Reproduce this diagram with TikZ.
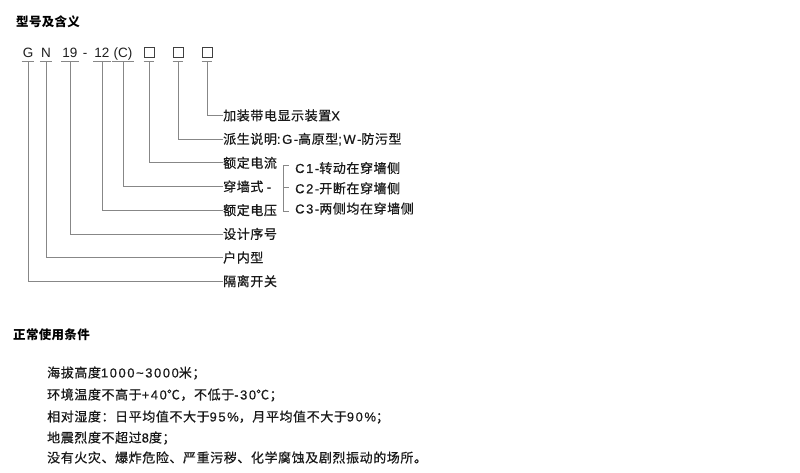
\documentclass[tikz,border=0pt]{standalone}
\usepackage{fontspec}
\setmainfont{Liberation Sans}
\newfontfamily\cjk[LetterSpace=4.5,FakeBold=0.6]{Noto Sans CJK SC}
\newfontfamily\cjkhead[LetterSpace=2.5]{Noto Sans CJK SC}
\newfontfamily\latsp[LetterSpace=12,FakeBold=0.4]{Liberation Sans}
\newcommand\la[1]{{\latsp #1}}

\begin{document}
\begin{tikzpicture}[x=1pt,y=-1pt,
  lbl/.style={anchor=west,inner sep=0pt,text=black!90,font=\cjk\fontsize{13}{15}\selectfont},
  code/.style={anchor=base,inner sep=0pt,text=black!88,font=\fontsize{13.5}{16}\selectfont},
  sq/.style={draw=black!75,line width=0.6pt,minimum size=10pt,inner sep=0pt},
  leader/.style={draw=black!47,line width=0.8pt},
  title/.style={anchor=west,inner sep=0pt,text=black,font=\cjkhead\bfseries\fontsize{12.5}{14}\selectfont}]
  % Fix the page size
  \fill[white] (0,0) rectangle (800,472);
  \useasboundingbox (0,0) rectangle (800,472);

  % First heading
  \node[title] (tModel) at (16,22) {型号及含义};

  % Draw the model code
  \node[code] (cG) at (28,57) {G};
  \node[code] (cN) at (46,57) {N};
  \node[code] (cNum) at (70,57) {19};
  \node[code] (cDash) at (85,57) {-};
  \node[code] (cVolt) at (102,57) {12};
  \node[code] (cWall) at (123,57) {(C)};
  \node[sq] (bCur) at (149,52) {};
  \node[sq] (bDer) at (178,52) {};
  \node[sq] (bDisp) at (207,52) {};

  % Meanings of the code parts
  \node[lbl] (lDisp) at (223,115.5) {加装带电显示装置\la{X}};
  \node[lbl] (lDer) at (223,139.2) {派生说明\la{:G-}高原型\la{;W-}防污型};
  \node[lbl] (lCur) at (223,162.8) {额定电流};
  \node[lbl] (lWall) at (223,186.5) {穿墙式 \la{-}};
  \node[lbl] (lVolt) at (223,210.2) {额定电压};
  \node[lbl] (lNum) at (223,233.9) {设计序号};
  \node[lbl] (lN) at (223,257.5) {户内型};
  \node[lbl] (lG) at (223,281.2) {隔离开关};

  % Variants of the wall type
  \node[lbl] (vA) at (295,168) {\la{C1-}转动在穿墙侧};
  \node[lbl] (vB) at (295,188.3) {\la{C2-}开断在穿墙侧};
  \node[lbl] (vC) at (295,208.5) {\la{C3-}两侧均在穿墙侧};
  \draw[leader] (288.5,165) -- (283.5,165) -- (283.5,211) -- (288.5,211);
  \draw[leader] (283.5,187.5) -- (288.5,187.5);

  % Underlines and leader lines
  \foreach \c/\l in {cG/lG,cN/lN,cNum/lNum,cVolt/lVolt,cWall/lWall} {
    \draw[leader] ([xshift=-1pt,yshift=-4pt]\c.base west) -- ([xshift=1pt,yshift=-4pt]\c.base east);
    \draw[leader] ([yshift=-4pt]\c.base) |- ([xshift=-0.5pt]\l.west);
  }
  \foreach \c/\l in {bCur/lCur,bDer/lDer,bDisp/lDisp} {
    \draw[leader] ([yshift=-4pt]\c.south west) -- ([yshift=-4pt]\c.south east);
    \draw[leader] ([yshift=-4pt]\c.south) |- ([xshift=-0.5pt]\l.west);
  }

  % Second heading
  \node[title] (tUse) at (13,335) {正常使用条件};

  % Conditions
  \node[lbl] (uA) at (47,373) {海拔高度\la{1000\textasciitilde3000}米；};
  \node[lbl] (uB) at (47,395) {环境温度不高于\la{+40}℃，不低于\la{-30}℃；};
  \node[lbl] (uC) at (47,417) {相对湿度：日平均值不大于\la{95\%}，月平均值不大于\la{90\%}；};
  \node[lbl] (uD) at (47,438) {地震烈度不超过\la{8}度；};
  \node[lbl] (uE) at (47,457.5) {没有火灾、爆炸危险、严重污秽、化学腐蚀及剧烈振动的场所。};
\end{tikzpicture}
\end{document}
